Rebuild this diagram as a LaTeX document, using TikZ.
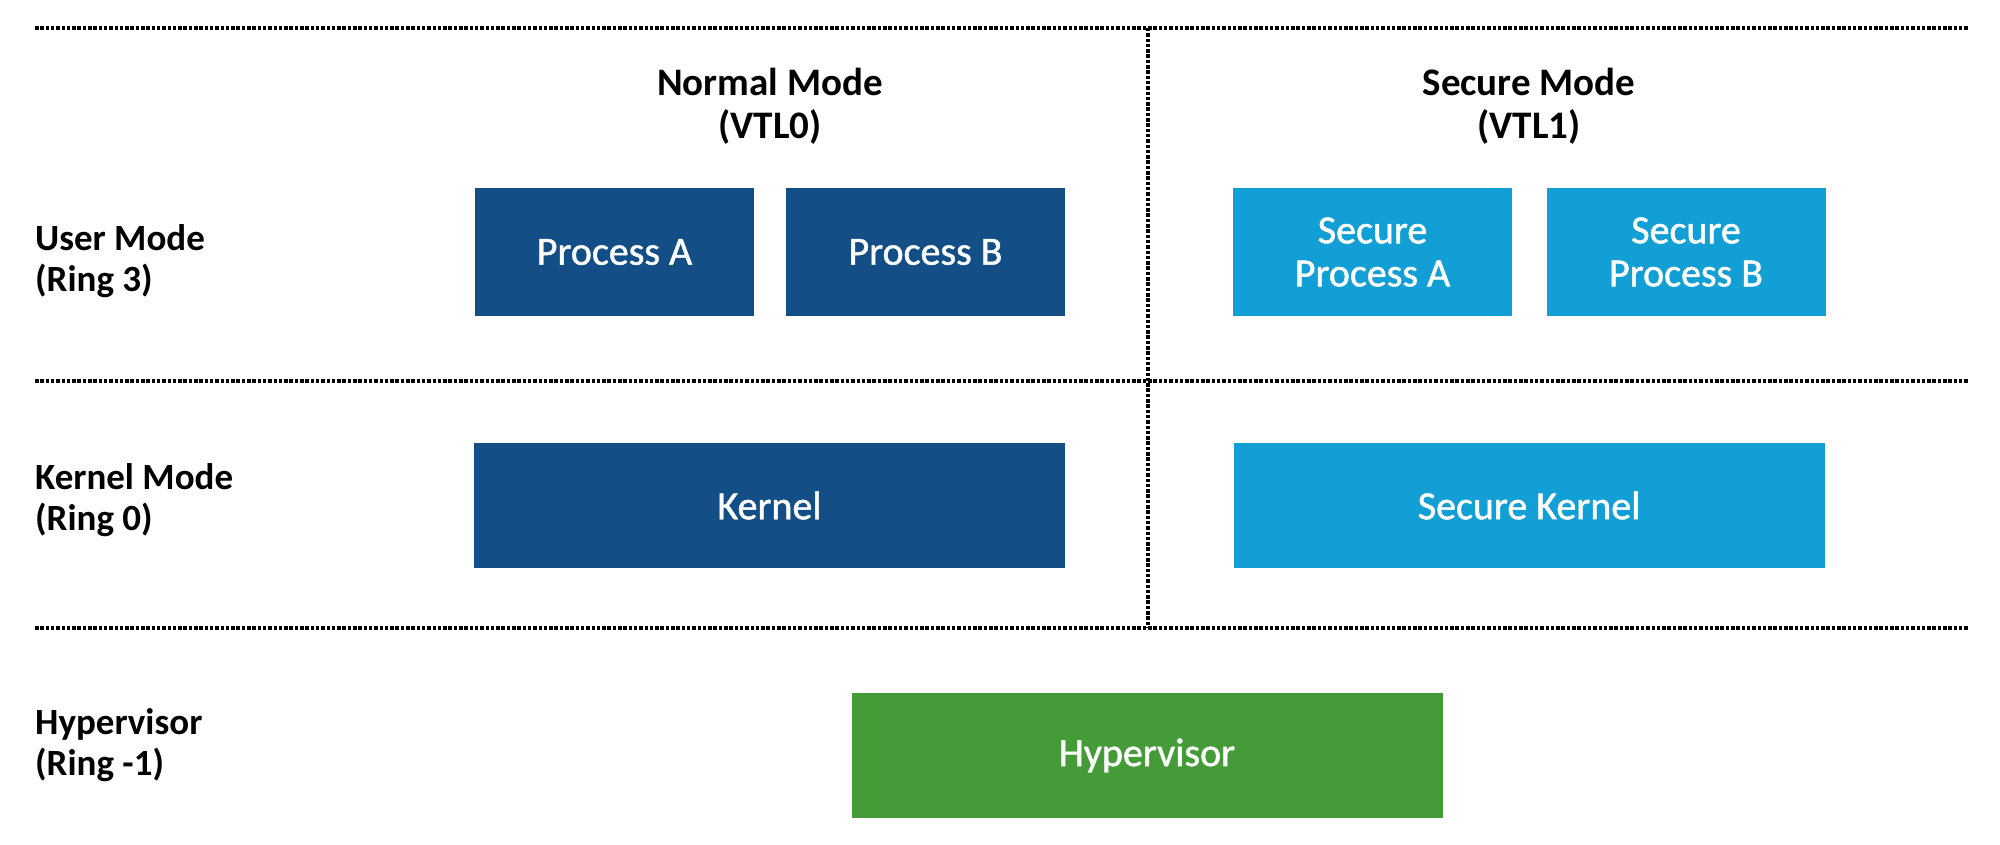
\documentclass[tikz,border=0pt]{standalone}
\usepackage{fontspec}
\setmainfont{Carlito}
\newfontfamily\boxfont[FakeBold=1.2]{Carlito}
\definecolor{normalblue}{HTML}{134E87}
\definecolor{secureblue}{HTML}{129FD6}
\definecolor{hvgreen}{HTML}{459B38}
\begin{document}
\begin{tikzpicture}[x=1pt,y=-1pt,
    modebox/.style={inner sep=0pt, minimum width=279pt, minimum height=128pt, text=white, align=center, font=\boxfont\fontsize{40}{43}\selectfont},
    widebox/.style={modebox, minimum width=591pt, minimum height=125pt},
    header/.style={align=center, font=\bfseries\fontsize{39}{43}\selectfont},
    ringlabel/.style={anchor=west, inner sep=0pt, align=left, font=\bfseries\fontsize{37}{41}\selectfont},
    divider/.style={line width=3.5pt, dash pattern=on 3.5pt off 1.8pt}]
    \useasboundingbox (0,0) rectangle (2000,845);

    % separators
    \coordinate (topL) at (35,28);   \coordinate (topR) at (1968,28);
    \coordinate (midL) at (35,381);  \coordinate (midR) at (1968,381);
    \coordinate (botL) at (35,628);  \coordinate (botR) at (1968,628);
    \coordinate (divT) at (1148,28); \coordinate (divB) at (1148,628);
    \draw[divider] (topL) -- (topR);
    \draw[divider] (midL) -- (midR);
    \draw[divider] (botL) -- (botR);
    \draw[divider] (divT) -- (divB);

    % column headers
    \node[header] (normal) at (770,106) {Normal Mode\\(VTL0)};
    \node[header] (secure) at (1529,106) {Secure Mode\\(VTL1)};

    % ring labels
    \node[ringlabel] (user) at (35,261) {User Mode\\(Ring 3)};
    \node[ringlabel] (kmode) at (35,500) {Kernel Mode\\(Ring 0)};
    \node[ringlabel] (hmode) at (35,745) {Hypervisor\\(Ring -1)};

    % boxes
    \node[modebox, fill=normalblue] (procA) at (614.5,252) {Process A};
    \node[modebox, fill=normalblue] (procB) at (925.5,252) {Process B};
    \node[modebox, fill=secureblue] (secA) at (1372.5,252) {Secure\\Process A};
    \node[modebox, fill=secureblue] (secB) at (1686,252) {Secure\\Process B};
    \node[widebox, fill=normalblue] (kernel) at (769.5,505.5) {Kernel};
    \node[widebox, fill=secureblue] (skernel) at (1529,505.5) {Secure Kernel};
    \node[widebox, fill=hvgreen] (hyper) at (1147,755.5) {Hypervisor};
\end{tikzpicture}
\end{document}
